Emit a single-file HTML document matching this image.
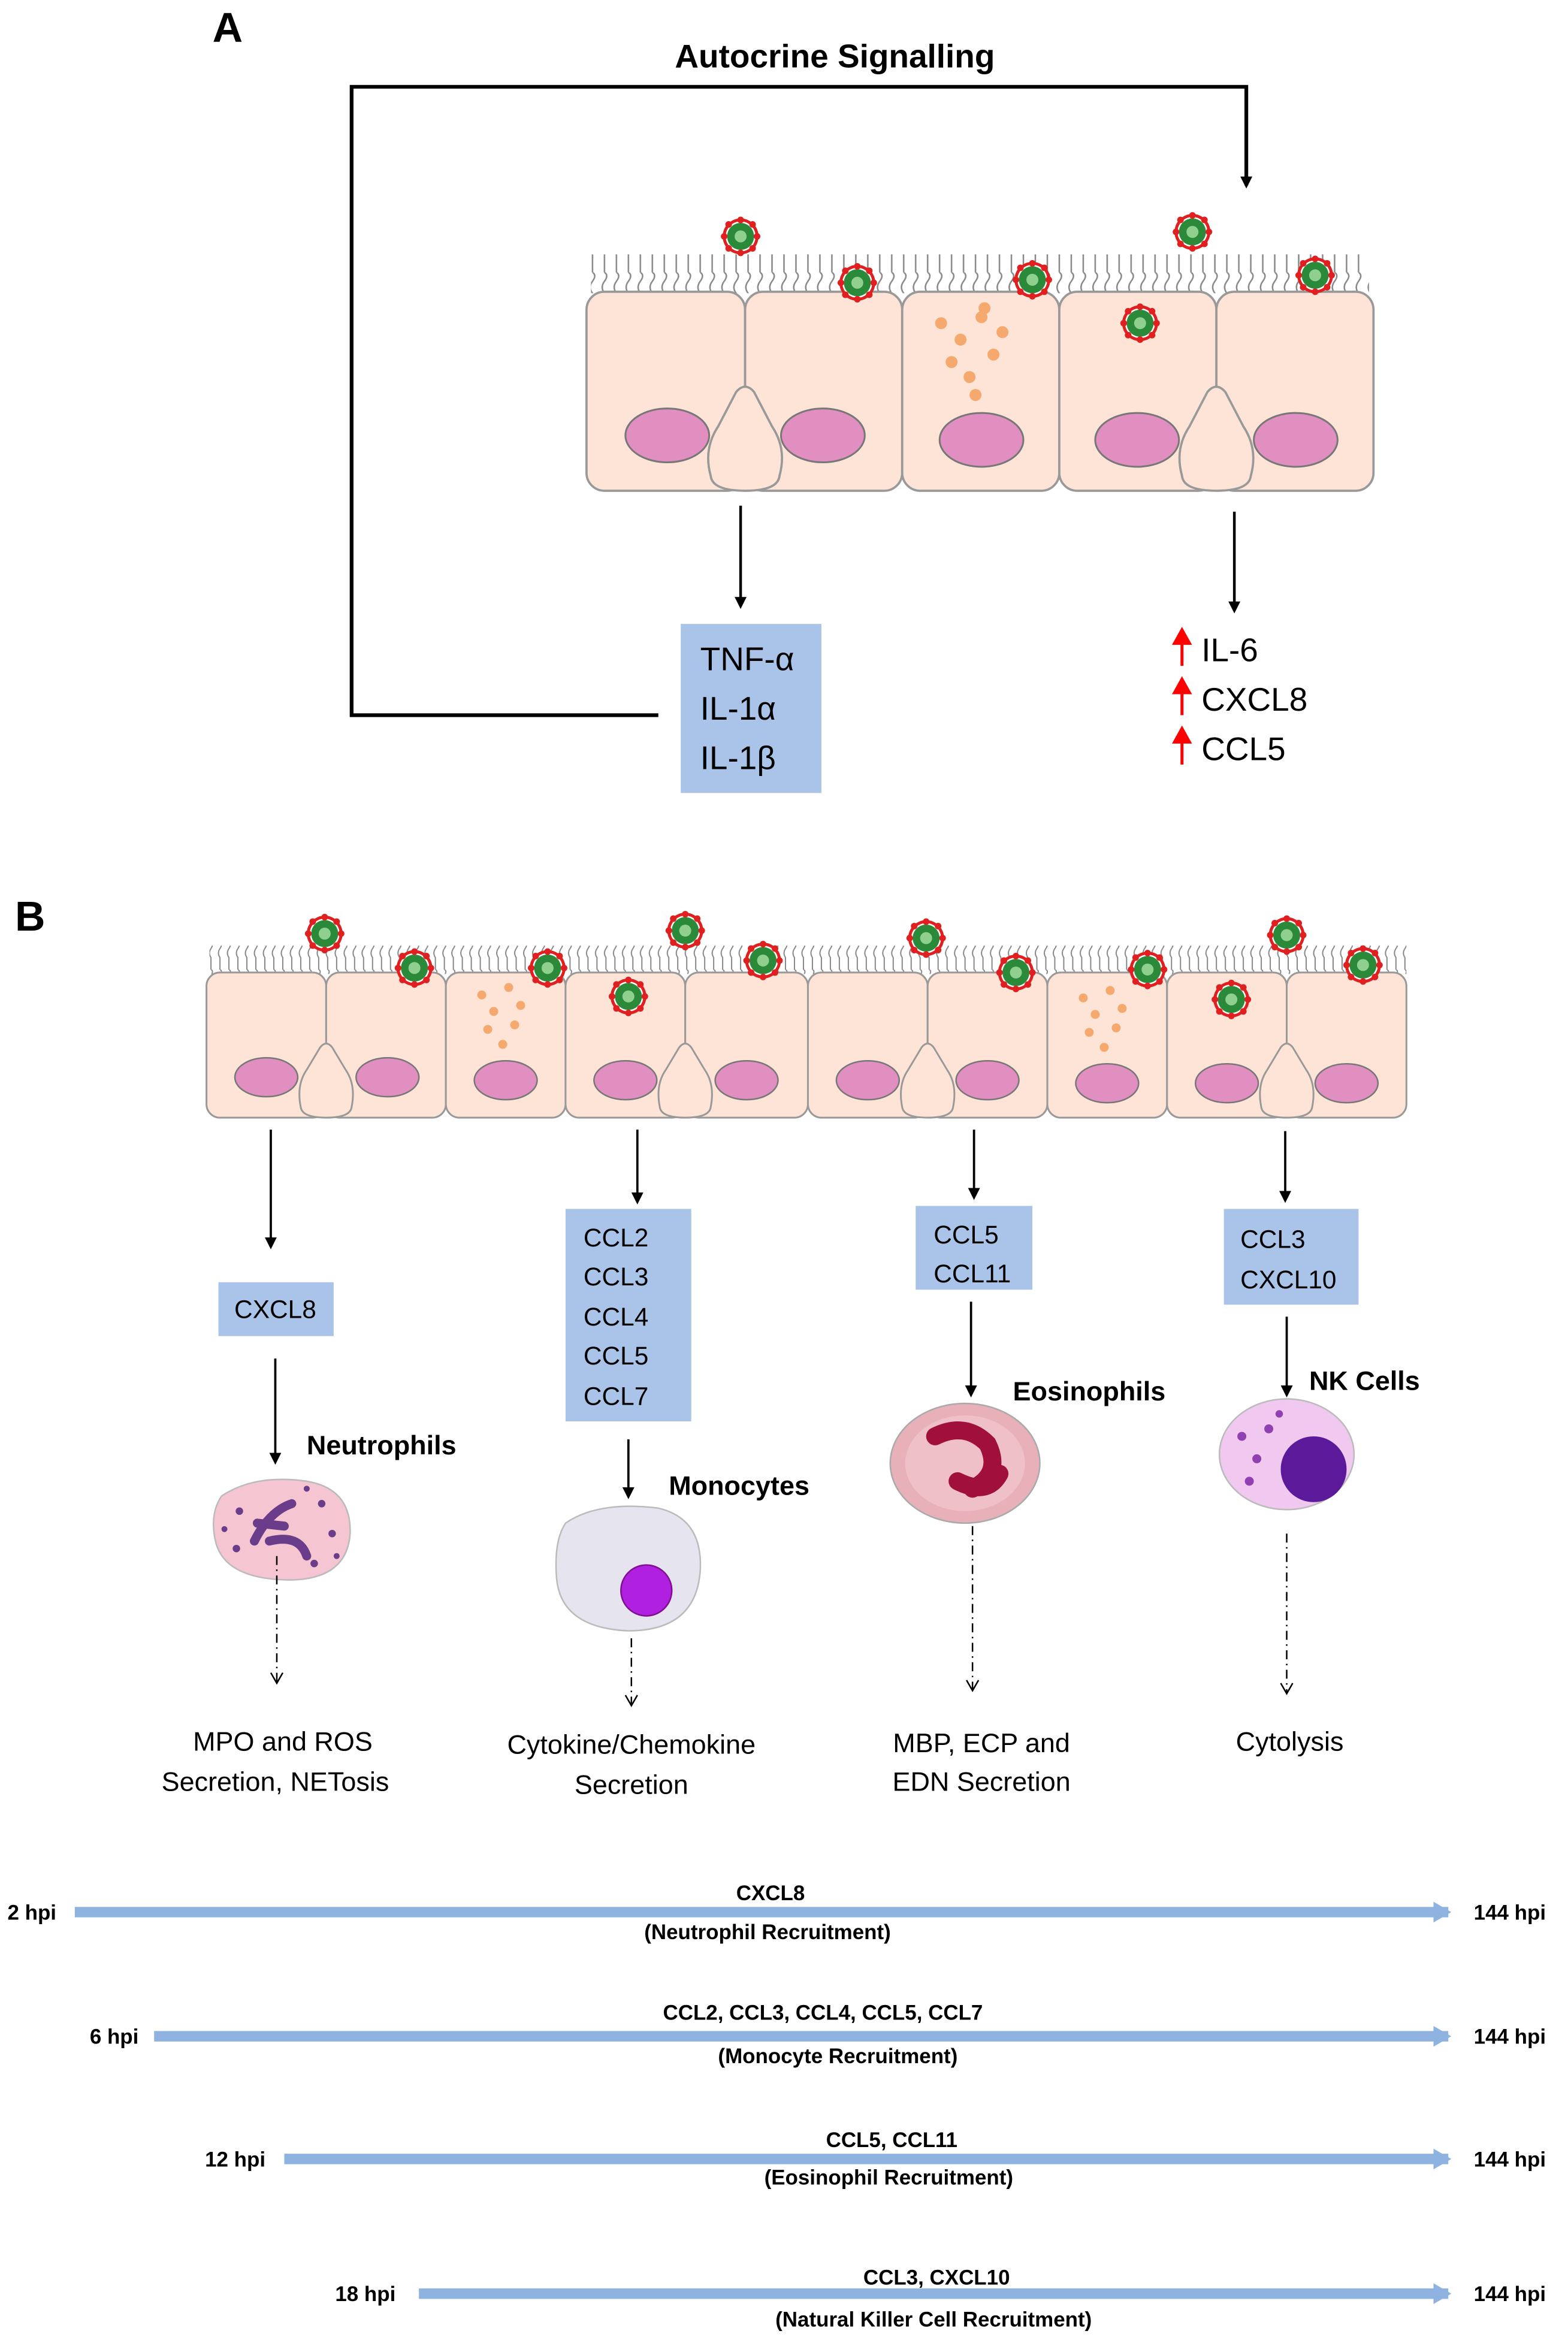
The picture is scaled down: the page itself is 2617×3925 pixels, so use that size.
<!DOCTYPE html>
<html><head><meta charset="utf-8"><style>
html,body{margin:0;padding:0;background:#fff;}
svg{display:block;}
text{font-family:"Liberation Sans","DejaVu Sans",sans-serif;}
</style></head><body>
<svg width="2617" height="3925" viewBox="0 0 1048 1572" preserveAspectRatio="none" xmlns="http://www.w3.org/2000/svg">
<defs>
<marker id="ah" markerWidth="8" markerHeight="8" refX="6" refY="4" orient="auto" markerUnits="userSpaceOnUse"><path d="M0,0 L8,4 L0,8 Z" fill="#000"/></marker>
<marker id="oa" markerWidth="10" markerHeight="10" refX="8" refY="5" orient="auto" markerUnits="userSpaceOnUse"><path d="M1,1 L8,5 L1,9" fill="none" stroke="#000" stroke-width="1"/></marker>
<marker id="ba" markerWidth="14" markerHeight="14" refX="10" refY="7" orient="auto" markerUnits="userSpaceOnUse"><path d="M0,0 L12,7 L0,14 Z" fill="#8fb3e0"/></marker>
<g id="vir"><circle r="12" fill="#e02020"/><circle r="10" fill="#fff"/><circle r="9" fill="#2a8a3a"/><circle r="4" fill="#8fd08f"/>
<g fill="#e02020"><circle cx="0" cy="-11" r="2.2"/><circle cx="0" cy="11" r="2.2"/><circle cx="11" cy="0" r="2.2"/><circle cx="-11" cy="0" r="2.2"/><circle cx="8" cy="8" r="2.2"/><circle cx="-8" cy="8" r="2.2"/><circle cx="8" cy="-8" r="2.2"/><circle cx="-8" cy="-8" r="2.2"/></g></g>
<pattern id="cil" width="8" height="26" patternUnits="userSpaceOnUse"><path d="M4,26 L4,14 Q1,10 4,6 Q7,2 4,0" fill="none" stroke="#888" stroke-width="1"/></pattern>
<pattern id="cil2" width="6" height="18" patternUnits="userSpaceOnUse"><path d="M3,18 L3,10 Q1,7 3,4 Q5,1 3,0" fill="none" stroke="#888" stroke-width="0.8"/></pattern>
</defs>

<!-- Panel A -->
<text x="142" y="28" font-size="28" font-weight="bold">A</text>
<text x="558" y="45" font-size="22" font-weight="bold" text-anchor="middle">Autocrine Signalling</text>
<polyline points="440,478 235,478 235,58 833,58 833,124" fill="none" stroke="#000" stroke-width="2.5" marker-end="url(#ah)"/>

<rect x="395" y="170" width="520" height="26" fill="url(#cil)"/>
<g fill="#fde4d6" stroke="#999" stroke-width="1.5">
<rect x="392" y="195" width="106" height="133" rx="12"/>
<rect x="498" y="195" width="105" height="133" rx="12"/>
<rect x="603" y="195" width="105" height="133" rx="12"/>
<rect x="708" y="195" width="105" height="133" rx="12"/>
<rect x="813" y="195" width="105" height="133" rx="12"/>
<path d="M475,318 Q470,300 480,285 L492,262 Q498,255 504,262 L516,285 Q526,300 521,318 Q520,328 498,328 Q476,328 475,318 Z"/>
<path d="M790,318 Q785,300 795,285 L807,262 Q813,255 819,262 L831,285 Q841,300 836,318 Q835,328 813,328 Q791,328 790,318 Z"/>
</g>
<g fill="#e08fc0" stroke="#777" stroke-width="1.2">
<ellipse cx="446" cy="291" rx="28" ry="18"/><ellipse cx="550" cy="291" rx="28" ry="18"/>
<ellipse cx="656" cy="294" rx="28" ry="18"/><ellipse cx="760" cy="294" rx="28" ry="18"/><ellipse cx="866" cy="294" rx="28" ry="18"/>
</g>
<g fill="#f6a96e"><circle cx="629" cy="216" r="4"/><circle cx="656" cy="212" r="4"/><circle cx="642" cy="227" r="4"/><circle cx="670" cy="222" r="4"/><circle cx="636" cy="242" r="4"/><circle cx="664" cy="237" r="4"/><circle cx="648" cy="252" r="4"/><circle cx="658" cy="206" r="4"/><circle cx="652" cy="264" r="4"/></g>
<use href="#vir" x="495" y="158"/><use href="#vir" x="573" y="189"/><use href="#vir" x="690" y="187"/><use href="#vir" x="797" y="155"/><use href="#vir" x="879" y="184"/><use href="#vir" x="762" y="216"/>

<line x1="495" y1="338" x2="495" y2="405" stroke="#000" stroke-width="1.8" marker-end="url(#ah)"/>
<rect x="455" y="417" width="94" height="113" fill="#a9c4e8"/>
<text x="468" y="448" font-size="22">TNF-α</text><text x="468" y="481" font-size="22">IL-1α</text><text x="468" y="514" font-size="22">IL-1β</text>
<line x1="825" y1="342" x2="825" y2="408" stroke="#000" stroke-width="1.8" marker-end="url(#ah)"/>
<g stroke="red" stroke-width="2" fill="red"><line x1="790" y1="445" x2="790" y2="428"/><path d="M785,430 L790,421 L795,430Z"/><line x1="790" y1="478" x2="790" y2="461"/><path d="M785,463 L790,454 L795,463Z"/><line x1="790" y1="511" x2="790" y2="494"/><path d="M785,496 L790,487 L795,496Z"/></g>
<text x="803" y="442" font-size="22">IL-6</text><text x="803" y="475" font-size="22">CXCL8</text><text x="803" y="508" font-size="22">CCL5</text>

<!-- Panel B -->
<text x="10" y="622" font-size="28" font-weight="bold">B</text>
<rect x="140" y="632" width="800" height="19" fill="url(#cil2)"/>
<g fill="#fde4d6" stroke="#999" stroke-width="1.2">
<rect x="138" y="650" width="80" height="97" rx="9"/><rect x="218" y="650" width="80" height="97" rx="9"/>
<rect x="298" y="650" width="80" height="97" rx="9"/><rect x="378" y="650" width="80" height="97" rx="9"/>
<rect x="458" y="650" width="82" height="97" rx="9"/><rect x="540" y="650" width="80" height="97" rx="9"/>
<rect x="620" y="650" width="80" height="97" rx="9"/><rect x="700" y="650" width="80" height="97" rx="9"/>
<rect x="780" y="650" width="80" height="97" rx="9"/><rect x="860" y="650" width="80" height="97" rx="9"/>
<g id="tri"><path d="M201,740 Q198,725 205,715 L214,700 Q218,695 222,700 L231,715 Q238,725 235,740 Q234,747 218,747 Q202,747 201,740 Z"/></g>
<use href="#tri" x="240"/><use href="#tri" x="402"/><use href="#tri" x="642"/>
</g>
<g fill="#e08fc0" stroke="#777" stroke-width="1">
<ellipse cx="178" cy="720" rx="21" ry="13"/><ellipse cx="259" cy="720" rx="21" ry="13"/><ellipse cx="338" cy="722" rx="21" ry="13"/>
<ellipse cx="418" cy="722" rx="21" ry="13"/><ellipse cx="499" cy="722" rx="21" ry="13"/><ellipse cx="580" cy="722" rx="21" ry="13"/>
<ellipse cx="660" cy="722" rx="21" ry="13"/><ellipse cx="740" cy="724" rx="21" ry="13"/><ellipse cx="820" cy="724" rx="21" ry="13"/><ellipse cx="900" cy="724" rx="21" ry="13"/>
</g>
<g fill="#f6a96e"><circle cx="322" cy="665" r="3"/><circle cx="340" cy="660" r="3"/><circle cx="330" cy="676" r="3"/><circle cx="348" cy="672" r="3"/><circle cx="326" cy="688" r="3"/><circle cx="344" cy="685" r="3"/><circle cx="336" cy="698" r="3"/>
<circle cx="724" cy="667" r="3"/><circle cx="742" cy="662" r="3"/><circle cx="732" cy="678" r="3"/><circle cx="750" cy="674" r="3"/><circle cx="728" cy="690" r="3"/><circle cx="746" cy="687" r="3"/><circle cx="738" cy="700" r="3"/></g>
<g transform="scale(1)">
<use href="#vir" x="217" y="624"/><use href="#vir" x="277" y="647"/><use href="#vir" x="366" y="647"/><use href="#vir" x="458" y="622"/><use href="#vir" x="510" y="642"/><use href="#vir" x="420" y="666"/>
<use href="#vir" x="619" y="627"/><use href="#vir" x="679" y="650"/><use href="#vir" x="767" y="648"/><use href="#vir" x="860" y="625"/><use href="#vir" x="911" y="645"/><use href="#vir" x="823" y="668"/>
</g>

<!-- column 1 -->
<line x1="181" y1="755" x2="181" y2="833" stroke="#000" stroke-width="1.5" marker-end="url(#ah)"/>
<rect x="146" y="857" width="77" height="36" fill="#a9c4e8"/>
<text x="184" y="881" font-size="17" text-anchor="middle">CXCL8</text>
<line x1="184" y1="908" x2="184" y2="977" stroke="#000" stroke-width="1.5" marker-end="url(#ah)"/>
<text x="205" y="972" font-size="18" font-weight="bold">Neutrophils</text>
<path d="M148,1000 Q170,985 205,990 Q235,995 234,1025 Q232,1055 195,1056 Q150,1056 144,1030 Q140,1012 148,1000Z" fill="#f5c6d2" stroke="#bbb"/>
<path d="M170,1030 Q180,1010 195,1005 M180,1030 Q200,1025 205,1040 M172,1018 L190,1020" stroke="#6a3c8a" stroke-width="6" fill="none" stroke-linecap="round"/>
<g fill="#6a3c8a"><circle cx="160" cy="1010" r="2.5"/><circle cx="215" cy="1005" r="2.5"/><circle cx="222" cy="1025" r="2.5"/><circle cx="158" cy="1035" r="2.5"/><circle cx="210" cy="1045" r="2.5"/><circle cx="225" cy="1040" r="2"/><circle cx="150" cy="1022" r="2"/><circle cx="205" cy="995" r="2"/></g>
<line x1="185" y1="1040" x2="185" y2="1125" stroke="#000" stroke-width="1" stroke-dasharray="6,3,1,3" marker-end="url(#oa)"/>
<text x="189" y="1170" font-size="18" text-anchor="middle">MPO and ROS</text>
<text x="184" y="1197" font-size="18" text-anchor="middle">Secretion, NETosis</text>

<!-- column 2 -->
<line x1="426" y1="755" x2="426" y2="803" stroke="#000" stroke-width="1.5" marker-end="url(#ah)"/>
<rect x="378" y="808" width="84" height="142" fill="#a9c4e8"/>
<g font-size="17"><text x="390" y="833">CCL2</text><text x="390" y="859">CCL3</text><text x="390" y="886">CCL4</text><text x="390" y="912">CCL5</text><text x="390" y="939">CCL7</text></g>
<line x1="420" y1="962" x2="420" y2="1000" stroke="#000" stroke-width="1.5" marker-end="url(#ah)"/>
<text x="447" y="999" font-size="18" font-weight="bold">Monocytes</text>
<path d="M378,1018 Q400,1003 440,1008 Q470,1015 468,1050 Q465,1090 420,1090 Q375,1088 372,1055 Q370,1030 378,1018Z" fill="#e6e4ef" stroke="#bbb"/>
<circle cx="432" cy="1063" r="17" fill="#b020e0" stroke="#801090"/>
<line x1="422" y1="1095" x2="422" y2="1140" stroke="#000" stroke-width="1" stroke-dasharray="6,3,1,3" marker-end="url(#oa)"/>
<text x="422" y="1172" font-size="18" text-anchor="middle">Cytokine/Chemokine</text>
<text x="422" y="1199" font-size="18" text-anchor="middle">Secretion</text>

<!-- column 3 -->
<line x1="651" y1="755" x2="651" y2="800" stroke="#000" stroke-width="1.5" marker-end="url(#ah)"/>
<rect x="612" y="806" width="78" height="56" fill="#a9c4e8"/>
<text x="624" y="831" font-size="17">CCL5</text><text x="624" y="857" font-size="17">CCL11</text>
<line x1="649" y1="870" x2="649" y2="932" stroke="#000" stroke-width="1.5" marker-end="url(#ah)"/>
<text x="677" y="936" font-size="18" font-weight="bold">Eosinophils</text>
<ellipse cx="645" cy="978" rx="50" ry="40" fill="#e8b0b8" stroke="#aaa"/>
<ellipse cx="645" cy="978" rx="40" ry="32" fill="#f0c0c8"/>
<path d="M625,960 Q645,950 660,965 Q670,985 650,995 M640,990 Q660,1000 668,985" stroke="#a0103a" stroke-width="12" fill="none" stroke-linecap="round"/>
<line x1="650" y1="1020" x2="650" y2="1130" stroke="#000" stroke-width="1" stroke-dasharray="6,3,1,3" marker-end="url(#oa)"/>
<text x="656" y="1171" font-size="18" text-anchor="middle">MBP, ECP and</text>
<text x="656" y="1197" font-size="18" text-anchor="middle">EDN Secretion</text>

<!-- column 4 -->
<line x1="859" y1="756" x2="859" y2="802" stroke="#000" stroke-width="1.5" marker-end="url(#ah)"/>
<rect x="818" y="808" width="90" height="64" fill="#a9c4e8"/>
<text x="829" y="834" font-size="17">CCL3</text><text x="829" y="861" font-size="17">CXCL10</text>
<line x1="860" y1="880" x2="860" y2="932" stroke="#000" stroke-width="1.5" marker-end="url(#ah)"/>
<text x="875" y="929" font-size="18" font-weight="bold">NK Cells</text>
<ellipse cx="860" cy="972" rx="45" ry="37" fill="#f0c8f0" stroke="#bbb"/>
<circle cx="878" cy="982" r="22" fill="#5a1a9a"/>
<g fill="#9040b0"><circle cx="830" cy="960" r="3"/><circle cx="840" cy="975" r="3"/><circle cx="848" cy="955" r="3"/><circle cx="835" cy="990" r="3"/><circle cx="855" cy="945" r="2.5"/></g>
<line x1="860" y1="1025" x2="860" y2="1132" stroke="#000" stroke-width="1" stroke-dasharray="6,3,1,3" marker-end="url(#oa)"/>
<text x="862" y="1170" font-size="18" text-anchor="middle">Cytolysis</text>

<!-- timelines -->
<g stroke="#8fb3e0" stroke-width="7">
<line x1="50" y1="1278" x2="968" y2="1278" marker-end="url(#ba)"/>
<line x1="103" y1="1361" x2="968" y2="1361" marker-end="url(#ba)"/>
<line x1="190" y1="1443" x2="968" y2="1443" marker-end="url(#ba)"/>
<line x1="280" y1="1533" x2="968" y2="1533" marker-end="url(#ba)"/>
</g>
<g font-size="14" font-weight="bold">
<text x="5" y="1283">2 hpi</text><text x="985" y="1283">144 hpi</text>
<text x="60" y="1366">6 hpi</text><text x="985" y="1366">144 hpi</text>
<text x="137" y="1448">12 hpi</text><text x="985" y="1448">144 hpi</text>
<text x="224" y="1538">18 hpi</text><text x="985" y="1538">144 hpi</text>
<g text-anchor="middle">
<text x="515" y="1270">CXCL8</text><text x="513" y="1296">(Neutrophil Recruitment)</text>
<text x="550" y="1350">CCL2, CCL3, CCL4, CCL5, CCL7</text><text x="560" y="1379">(Monocyte Recruitment)</text>
<text x="596" y="1435">CCL5, CCL11</text><text x="594" y="1460">(Eosinophil Recruitment)</text>
<text x="626" y="1527">CCL3, CXCL10</text><text x="624" y="1555">(Natural Killer Cell Recruitment)</text>
</g></g>
</svg>
</body></html>
